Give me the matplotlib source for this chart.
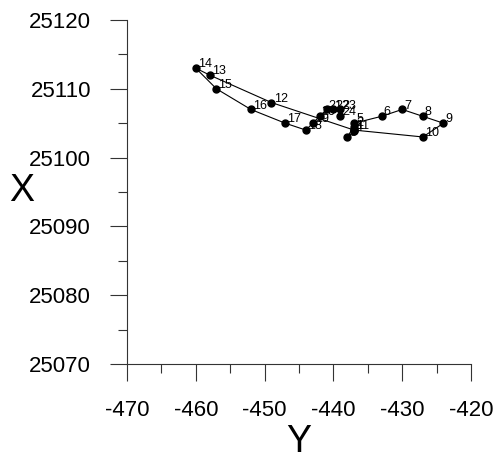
import matplotlib
matplotlib.use("Agg")
import matplotlib.pyplot as plt
from matplotlib.ticker import MultipleLocator

plt.rcParams['font.family'] = ['Liberation Sans', 'DejaVu Sans']
plt.rcParams['axes.unicode_minus'] = False

labels = [str(i) for i in range(1, 25)]
y_vals = [-437, -437, -438, -437, -437, -433, -430, -427, -424, -427, -437, -449,
          -458, -460, -457, -452, -447, -444, -443, -442, -441, -440, -439, -439]
x_vals = [25104, 25104.5, 25103, 25103.8, 25105, 25106, 25107, 25106, 25105, 25103, 25104, 25108,
          25112, 25113, 25110, 25107, 25105, 25104, 25105, 25106, 25107, 25107, 25107, 25106]

fig = plt.figure(figsize=(4.99, 4.61), dpi=100)
ax = fig.add_axes([127/499, (461-364)/461, 344/499, 344/461])

ax.plot(y_vals, x_vals, color='black', lw=0.8, marker='o', markersize=5,
        markerfacecolor='black', markeredgecolor='black', zorder=3)
for lab, yv, xv in zip(labels, y_vals, x_vals):
    ax.annotate(lab, (yv, xv), xytext=(1.5, -1.5), textcoords='offset points',
                ha='left', va='bottom', fontsize=9)

ax.set_xlim(-470, -420)
ax.set_ylim(25070, 25120)
ax.xaxis.set_major_locator(MultipleLocator(10))
ax.xaxis.set_minor_locator(MultipleLocator(5))
ax.yaxis.set_major_locator(MultipleLocator(10))
ax.yaxis.set_minor_locator(MultipleLocator(5))

for s in ['top', 'right']:
    ax.spines[s].set_visible(False)
for s in ['left', 'bottom']:
    ax.spines[s].set_linewidth(0.8)
    ax.spines[s].set_color('#333333')

ax.tick_params(which='major', direction='out', length=12, width=0.8, color='#333333',
               labelsize=16, pad=14)
ax.tick_params(which='minor', direction='out', length=6.5, width=0.8, color='#333333')

ax.set_xlabel('Y', fontsize=27)
ax.xaxis.set_label_coords(0.5, -0.173)
ax.set_ylabel('X', fontsize=27, rotation=0, va='center', ha='center')
ax.yaxis.set_label_coords(-0.305, 0.503)

fig.savefig('out.png', dpi=100)
